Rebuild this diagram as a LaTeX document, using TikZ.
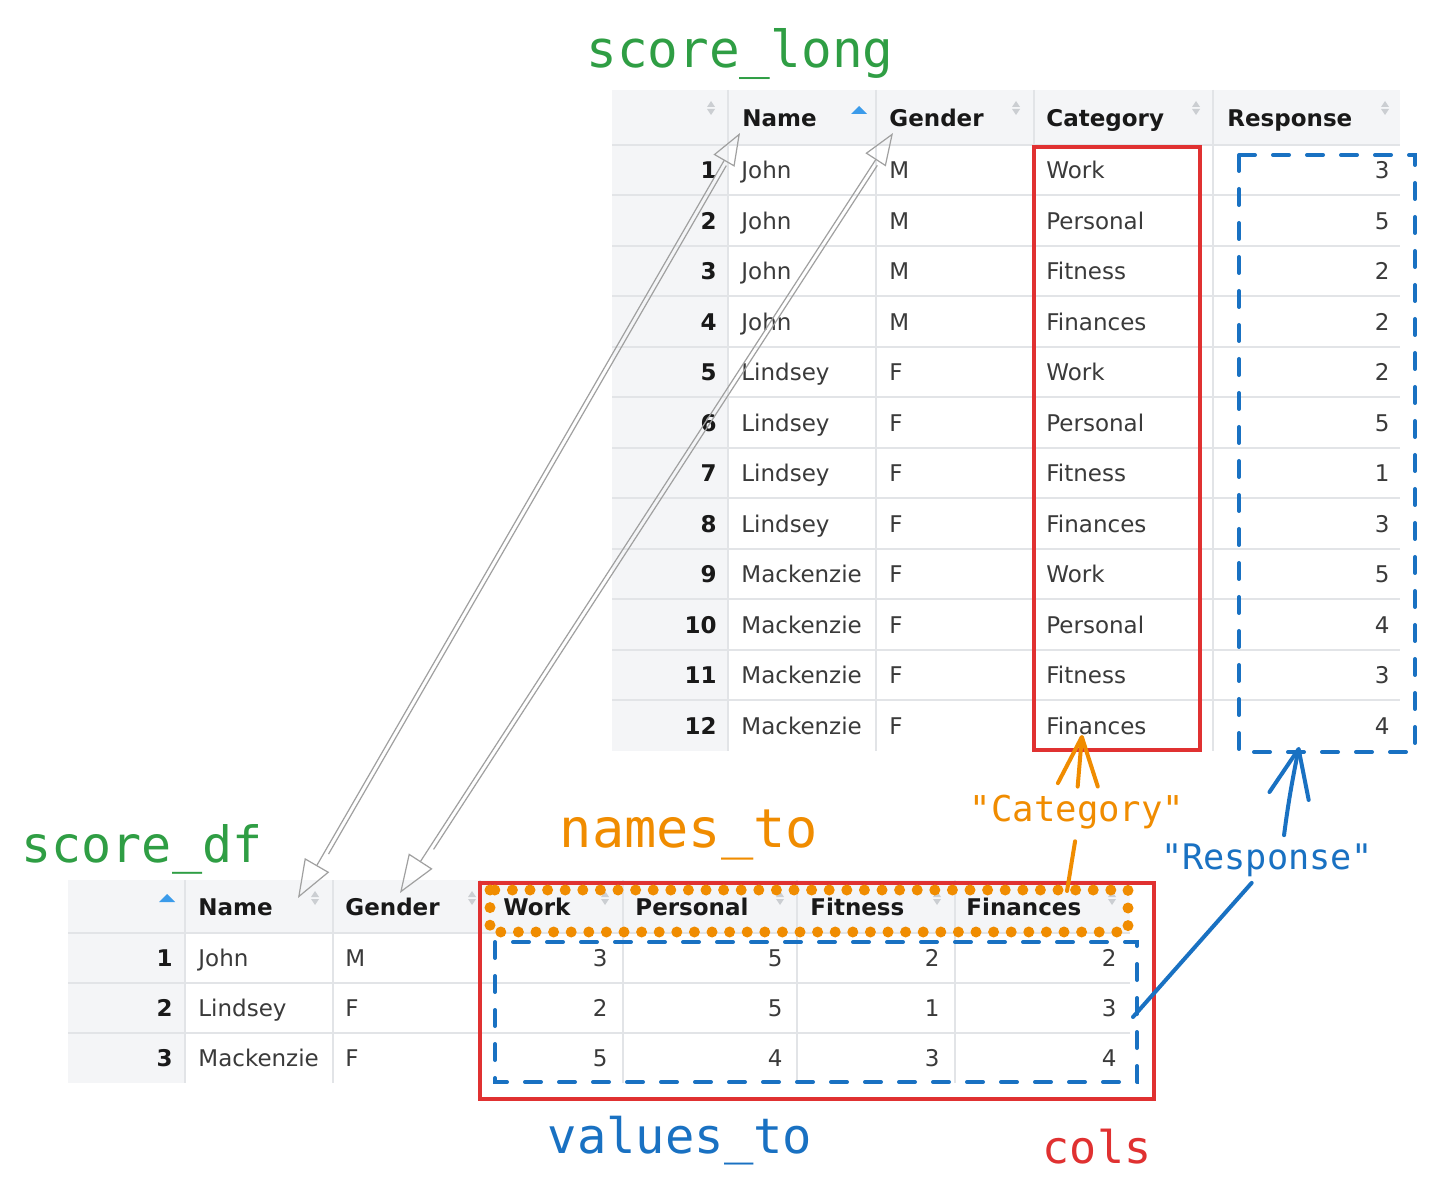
\documentclass[tikz,border=0pt]{standalone}
\usepackage{fontspec}
\setmainfont{DejaVu Sans}
\newfontfamily\handfont{DejaVu Sans Mono}
\usetikzlibrary{arrows.meta,positioning,calc}

\definecolor{hdrbg}{HTML}{F4F5F7}
\definecolor{gridgray}{HTML}{E2E4E7}
\definecolor{sortgray}{HTML}{CBCED2}
\definecolor{sortblue}{HTML}{3B9BEA}
\definecolor{cellfg}{HTML}{3A3A3A}
\definecolor{xgreen}{HTML}{2F9E44}
\definecolor{xorange}{HTML}{F08C00}
\definecolor{xblue}{HTML}{1971C2}
\definecolor{xred}{HTML}{E03131}
\definecolor{linkgray}{HTML}{A0A0A0}

\newcommand{\sortmark}[2]{%
  \fill[sortgray] (#1-4,#2-1) -- (#1+4,#2-1) -- (#1,#2-7) -- cycle;
  \fill[sortgray] (#1-4,#2+1) -- (#1+4,#2+1) -- (#1,#2+7) -- cycle;}
\newcommand{\sortup}[2]{%
  \fill[sortblue] (#1-8,#2+4) -- (#1+8,#2+4) -- (#1,#2-4) -- cycle;}

\tikzset{
  cell/.style={inner sep=0pt, text=cellfg, font=\fontsize{11.5}{13}\selectfont},
  hdr/.style={inner sep=0pt, text=black!90, font=\fontsize{11.5}{13}\selectfont\bfseries},
  grid/.style={draw=gridgray, line width=1pt},
  redbox/.style={draw=xred, line width=2pt},
  bluedash/.style={draw=xblue, line width=2pt, line cap=round, dash pattern=on 8pt off 9pt},
  orangedots/.style={draw=xorange, line width=5.5pt, line cap=round, dash pattern=on 0pt off 8.8pt},
  link/.style={draw=linkgray, line width=0.6pt, {Triangle[open,length=19pt,width=14pt]}-{Triangle[open,length=16pt,width=12pt]}},
  linktwin/.style={draw=linkgray, line width=0.6pt},
  pointer/.style={line width=2pt, line cap=round, -{Straight Barb[length=24pt,width=20pt,round]}},
  hand/.style={line width=2pt, line cap=round},
}

\begin{document}
\begin{tikzpicture}[x=0.5pt,y=-0.5pt]
    \fill[white] (0,0) rectangle (1435,1202);
    \useasboundingbox (0,0) rectangle (1435,1202);

    %coordinates
    \coordinate (dfNameTip) at (298,898);
    \coordinate (lgNameTip) at (740,133);
    \coordinate (dfGenderTip) at (400,893);
    \coordinate (lgGenderTip) at (893,133);
    \coordinate (catTip) at (1082,735);
    \coordinate (catFoot) at (1067,891);
    \coordinate (respTip) at (1299,747);
    \coordinate (respFoot) at (1133,1017);

    %score_long table
    \fill[hdrbg] (612,90) rectangle (1400,145);
    \fill[hdrbg] (612,145) rectangle (728,751);
    \foreach \i in {1,...,11}
        \draw[grid] (612,{145+\i*50.5}) -- (1400,{145+\i*50.5});
    \draw[grid, line width=1.4pt] (612,145) -- (1400,145);
    \foreach \x in {728,876,1034,1213}
        \draw[grid] (\x,90) -- (\x,751);

    \node[hdr, anchor=base west] (lgName) at (742,126.5) {Name};
    \node[hdr, anchor=base west] (lgGender) at (889,126.5) {Gender};
    \node[hdr, anchor=base west] (lgCategory) at (1046,126.5) {Category};
    \node[hdr, anchor=base west] (lgResponse) at (1227,126.5) {Response};
    \sortmark{711}{108}
    \sortup{859}{110}
    \sortmark{1016}{108}
    \sortmark{1196}{108}
    \sortmark{1385}{108}

    \foreach \i/\nm/\g/\c/\r in {1/John/M/Work/3, 2/John/M/Personal/5, 3/John/M/Fitness/2, 4/John/M/Finances/2,
        5/Lindsey/F/Work/2, 6/Lindsey/F/Personal/5, 7/Lindsey/F/Fitness/1, 8/Lindsey/F/Finances/3,
        9/Mackenzie/F/Work/5, 10/Mackenzie/F/Personal/4, 11/Mackenzie/F/Fitness/3, 12/Mackenzie/F/Finances/4}{
        \pgfmathsetmacro{\yy}{145+(\i-0.5)*50.5+8.5}
        \node[hdr, anchor=base east] (lg-idx-\i) at (717,\yy) {\i};
        \node[cell, anchor=base west] (lg-name-\i) at (741,\yy) {\nm};
        \node[cell, anchor=base west] (lg-gender-\i) at (889,\yy) {\g};
        \node[cell, anchor=base west] (lg-cat-\i) at (1046,\yy) {\c};
        \node[cell, anchor=base east] (lg-resp-\i) at (1390,\yy) {\r};
    }

    %score_df table
    \fill[hdrbg] (68,880) rectangle (1130,933);
    \fill[hdrbg] (68,933) rectangle (185,1083);
    \foreach \y in {983,1033}
        \draw[grid] (68,\y) -- (1130,\y);
    \draw[grid, line width=1.4pt] (68,933) -- (1130,933);
    \foreach \x in {185,333,480,623,797,955}
        \draw[grid] (\x,880) -- (\x,1083);

    \node[hdr, anchor=base west] (dfName) at (198,915.5) {Name};
    \node[hdr, anchor=base west] (dfGender) at (345,915.5) {Gender};
    \node[hdr, anchor=base west] (dfWork) at (503,915.5) {Work};
    \node[hdr, anchor=base west] (dfPersonal) at (635,915.5) {Personal};
    \node[hdr, anchor=base west] (dfFitness) at (810,915.5) {Fitness};
    \node[hdr, anchor=base west] (dfFinances) at (966,915.5) {Finances};
    \sortup{167}{898}
    \foreach \x in {315,472,605,780,937,1112}{
        \sortmark{\x}{898}
    }

    \foreach \i/\nm/\g/\w/\p/\f/\m in {1/John/M/3/5/2/2, 2/Lindsey/F/2/5/1/3, 3/Mackenzie/F/5/4/3/4}{
        \pgfmathsetmacro{\yy}{933+(\i-0.5)*50+8.5}
        \node[hdr, anchor=base east] (df-idx-\i) at (173,\yy) {\i};
        \node[cell, anchor=base west] (df-name-\i) at (198,\yy) {\nm};
        \node[cell, anchor=base west] (df-gender-\i) at (345,\yy) {\g};
        \node[cell, anchor=base east] (df-work-\i) at (608,\yy) {\w};
        \node[cell, anchor=base east] (df-pers-\i) at (783,\yy) {\p};
        \node[cell, anchor=base east] (df-fit-\i) at (940,\yy) {\f};
        \node[cell, anchor=base east] (df-fin-\i) at (1117,\yy) {\m};
    }

    %boxes
    \draw[redbox] (1034,147) rectangle (1200,750);
    \draw[bluedash] (1239,155) rectangle (1415,752);
    \draw[redbox] (480,883) rectangle (1154,1099);
    \draw[orangedots] (490,890) rectangle (1128,932);
    \draw[bluedash] (495,942) rectangle (1137,1082);

    %labels
    \node[inner sep=0pt, anchor=base, text=xgreen, font=\handfont\fontsize{25.5}{28}\selectfont] (longTitle) at (740,68) {score\_long};
    \node[inner sep=0pt, anchor=base, text=xgreen, font=\handfont\fontsize{25}{28}\selectfont] (dfTitle) at (142,863) {score\_df};
    \node[inner sep=0pt, anchor=base, text=xorange, font=\handfont\fontsize{26.8}{28}\selectfont] (namesTo) at (689,848) {names\_to};
    \node[inner sep=0pt, anchor=base, text=xblue, font=\handfont\fontsize{24.4}{28}\selectfont] (valuesTo) at (680,1153) {values\_to};
    \node[inner sep=0pt, anchor=base, text=xred, font=\handfont\fontsize{22.5}{24}\selectfont] (colsLbl) at (1097,1163) {cols};
    \node[inner sep=0pt, text=xorange, font=\handfont\fontsize{17.8}{20}\selectfont] (catLbl) at (1077,812) {"Category"};
    \node[inner sep=0pt, text=xblue, font=\handfont\fontsize{17.6}{20}\selectfont] (respLbl) at (1267,860) {"Response"};

    %edges
    \draw[link] (dfNameTip) -- (lgNameTip);
    \draw[linktwin] ($(dfNameTip)!0.06!(lgNameTip)+(4,2)$) -- ($(dfNameTip)!0.96!(lgNameTip)+(4,2)$);
    \draw[link] (dfGenderTip) -- (lgGenderTip);
    \draw[linktwin] ($(dfGenderTip)!0.06!(lgGenderTip)+(4,2)$) -- ($(dfGenderTip)!0.96!(lgGenderTip)+(4,2)$);

    \draw[pointer, xorange, shorten <=4pt] (catLbl.north) -- (catTip);
    \draw[hand, xorange, shorten <=6pt] (catLbl.south) -- (catFoot);
    \draw[pointer, xblue, shorten <=4pt] ($(respLbl.north)+(16,0)$) to[bend left=2] (respTip);
    \draw[hand, xblue, shorten <=4pt] ($(respLbl.south)+(-10,0)$) -- (respFoot);
\end{tikzpicture}
\end{document}
